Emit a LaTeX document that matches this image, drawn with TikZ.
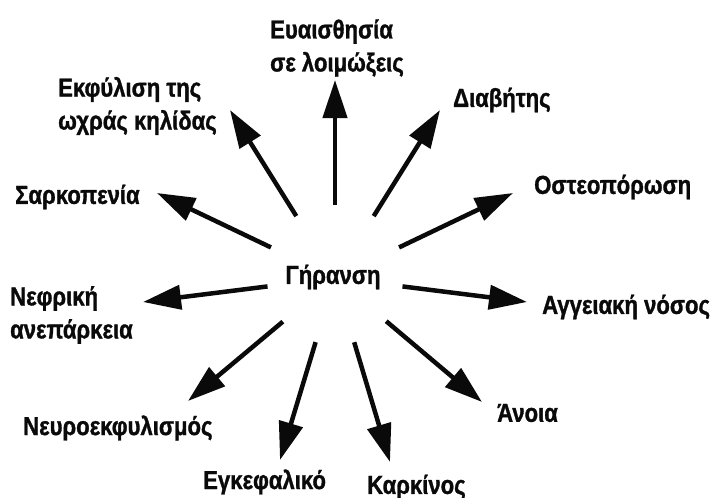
\documentclass[tikz,border=0pt]{standalone}
\usepackage{fontspec}
\newfontfamily\lblfont{Liberation Sans Bold}[FakeStretch=0.85,FakeBold=1.2]
\usepackage{tikz}
\usetikzlibrary{arrows.meta}
\definecolor{inkc}{HTML}{0A0A0A}
\tikzset{
  ar/.style={-{Triangle[length=38pt,width=24pt]},line width=4.5pt,inkc},
  lbl/.style={anchor=west,align=left,inner sep=0pt,font=\lblfont\fontsize{26}{33}\selectfont,text=inkc}
}

\begin{document}
\begin{tikzpicture}[x=1pt,y=-1pt]
\useasboundingbox (0,0) rectangle (713,498);
\node[lbl,anchor=center] (ger) at (333,277) {Γήρανση};
\node[lbl] (infec) at (270,48) {Ευαισθησία\\σε λοιμώξεις};
\node[lbl] (macul) at (58,106) {Εκφύλιση της\\ωχράς κηλίδας};
\node[lbl] (diab) at (453,100) {Διαβήτης};
\node[lbl] (osteo) at (534,187) {Οστεοπόρωση};
\node[lbl] (sarc) at (15,197) {Σαρκοπενία};
\node[lbl] (renal) at (10,315) {Νεφρική\\ανεπάρκεια};
\node[lbl] (vasc) at (542,307) {Αγγειακή νόσος};
\node[lbl] (neuro) at (23,428) {Νευροεκφυλισμός};
\node[lbl] (stroke) at (203,482) {Εγκεφαλικό};
\node[lbl] (canc) at (367,487) {Καρκίνος};
\node[lbl] (dem) at (497,413) {Άνοια};
\coordinate (hub) at (335,278);
\coordinate (t-infec) at (335,80);
\coordinate (t-macul) at (230,110);
\coordinate (t-diab) at (440,110);
\coordinate (t-osteo) at (513,193);
\coordinate (t-sarc) at (157,193);
\coordinate (t-renal) at (143,302);
\coordinate (t-vasc) at (527,302);
\coordinate (t-neuro) at (188,401);
\coordinate (t-stroke) at (280,460);
\coordinate (t-canc) at (390,462);
\coordinate (t-dem) at (482,402);
\foreach \t/\g in {infec/73,macul/73,diab/73,osteo/71,sarc/71,renal/68,vasc/68,neuro/68,stroke/67,canc/67,dem/67}
  \draw[ar,shorten <=\g pt] (hub) -- (t-\t);
\end{tikzpicture}
\end{document}
